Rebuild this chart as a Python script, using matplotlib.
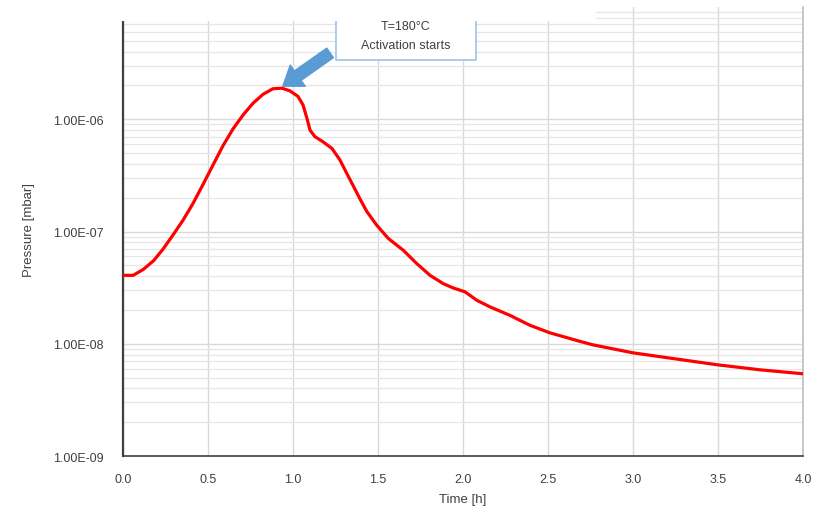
import matplotlib.pyplot as plt
from matplotlib.patches import Rectangle

# values (time in h, pressure in mbar)
time_h = [0.0, 0.06, 0.12, 0.18, 0.235, 0.294, 0.353, 0.412, 0.471, 0.529,
          0.588, 0.647, 0.706, 0.765, 0.824, 0.882, 0.935, 0.982, 1.029, 1.059,
          1.082, 1.10, 1.129, 1.176, 1.229, 1.276, 1.316, 1.355, 1.394, 1.434,
          1.492, 1.561, 1.649, 1.728, 1.806, 1.884, 1.943, 2.012, 2.081, 2.159,
          2.276, 2.394, 2.512, 2.688, 2.765, 3.0, 3.259, 3.494, 3.747, 4.0]
pressure = [4.07e-8, 4.07e-8, 4.6e-8, 5.5e-8, 6.95e-8, 9.3e-8, 1.26e-7, 1.78e-7,
            2.63e-7, 3.9e-7, 5.8e-7, 8.2e-7, 1.09e-6, 1.39e-6, 1.67e-6, 1.87e-6,
            1.89e-6, 1.79e-6, 1.6e-6, 1.34e-6, 1.02e-6, 8.0e-7, 7.0e-7, 6.3e-7,
            5.5e-7, 4.34e-7, 3.3e-7, 2.54e-7, 1.95e-7, 1.51e-7, 1.14e-7, 8.66e-8,
            6.8e-8, 5.18e-8, 4.07e-8, 3.43e-8, 3.14e-8, 2.9e-8, 2.44e-8, 2.13e-8,
            1.79e-8, 1.46e-8, 1.25e-8, 1.05e-8, 9.77e-9, 8.3e-9, 7.3e-9, 6.5e-9,
            5.86e-9, 5.4e-9]

x_ticks = [0.0, 0.5, 1.0, 1.5, 2.0, 2.5, 3.0, 3.5, 4.0]
y_ticks = [1e-9, 1e-8, 1e-7, 1e-6]
y_labels = ["1.00E-09", "1.00E-08", "1.00E-07", "1.00E-06"]

plt.rcParams["font.family"] = ["Liberation Sans", "DejaVu Sans"]
txt = "#404040"

fig = plt.figure(figsize=(8.19, 5.10), dpi=100)
ax = fig.add_axes([123 / 819, 1 - 457 / 510, 680 / 819, 449 / 510])

ax.plot(time_h, pressure, color="#ff0000", lw=2.3, zorder=3,
        solid_joinstyle="round", solid_capstyle="round")

ax.set_yscale("log")
ax.set_xlim(0, 4)
ax.set_ylim(1e-9, 1e-5)
ax.set_xticks(x_ticks)
ax.set_xticklabels([f"{v:.1f}" for v in x_ticks])
ax.set_yticks(y_ticks)
ax.set_yticklabels(y_labels)
ax.set_yticks([m * 10.0 ** e for e in range(-9, -5) for m in range(2, 10)], minor=True)
ax.tick_params(which="both", length=0, labelsize=9, labelcolor=txt)
ax.tick_params(axis="x", pad=12)
ax.tick_params(axis="y", pad=14)

ax.grid(True, which="major", axis="both", color="#d9d9d9", lw=1.0)
ax.grid(True, which="minor", axis="y", color="#e6e6e6", lw=0.9)
ax.set_axisbelow(True)

ax.spines["top"].set_visible(False)
ax.spines["left"].set_color("#404040")
ax.spines["left"].set_linewidth(1.6)
ax.spines["bottom"].set_color("#404040")
ax.spines["bottom"].set_linewidth(1.2)
ax.spines["right"].set_color("#bfbfbf")
ax.spines["right"].set_linewidth(1.2)

ax.set_xlabel("Time [h]", fontsize=9.5, color=txt, labelpad=6)
ax.set_ylabel("Pressure [mbar]", fontsize=9.5, color=txt)
ax.yaxis.set_label_coords(-0.13, 0.505)

# callout box and arrow pointing at the peak
fig.patches.append(Rectangle((336 / 819, 1 - 61 / 510), 140 / 819, 61 / 510,
                             transform=fig.transFigure, facecolor="white",
                             edgecolor="#9dc3e6", lw=1.2, zorder=0.5))
fig.text(406 / 819, 1 - 27 / 510, "T=180°C", ha="center", va="center",
         fontsize=9, color=txt, zorder=0.6)
fig.text(406 / 819, 1 - 46 / 510, "Activation starts", ha="center", va="center",
         fontsize=9, color=txt, zorder=0.6)
ax.annotate("", xy=(0.94, 1.97e-6), xytext=(1.218, 3.9e-6),
            arrowprops=dict(arrowstyle="simple,head_length=0.6,head_width=0.85,tail_width=0.38",
                            color="#5b9bd5", mutation_scale=22, shrinkA=0, shrinkB=0),
            annotation_clip=False, zorder=5)

# top strip of the screenshot is blank on the left
fig.patches.append(Rectangle((0, 1 - 22 / 510), 596 / 819, 22 / 510,
                             transform=fig.transFigure, facecolor="white",
                             edgecolor="none", zorder=1))

fig.savefig("out.png", dpi=100)
